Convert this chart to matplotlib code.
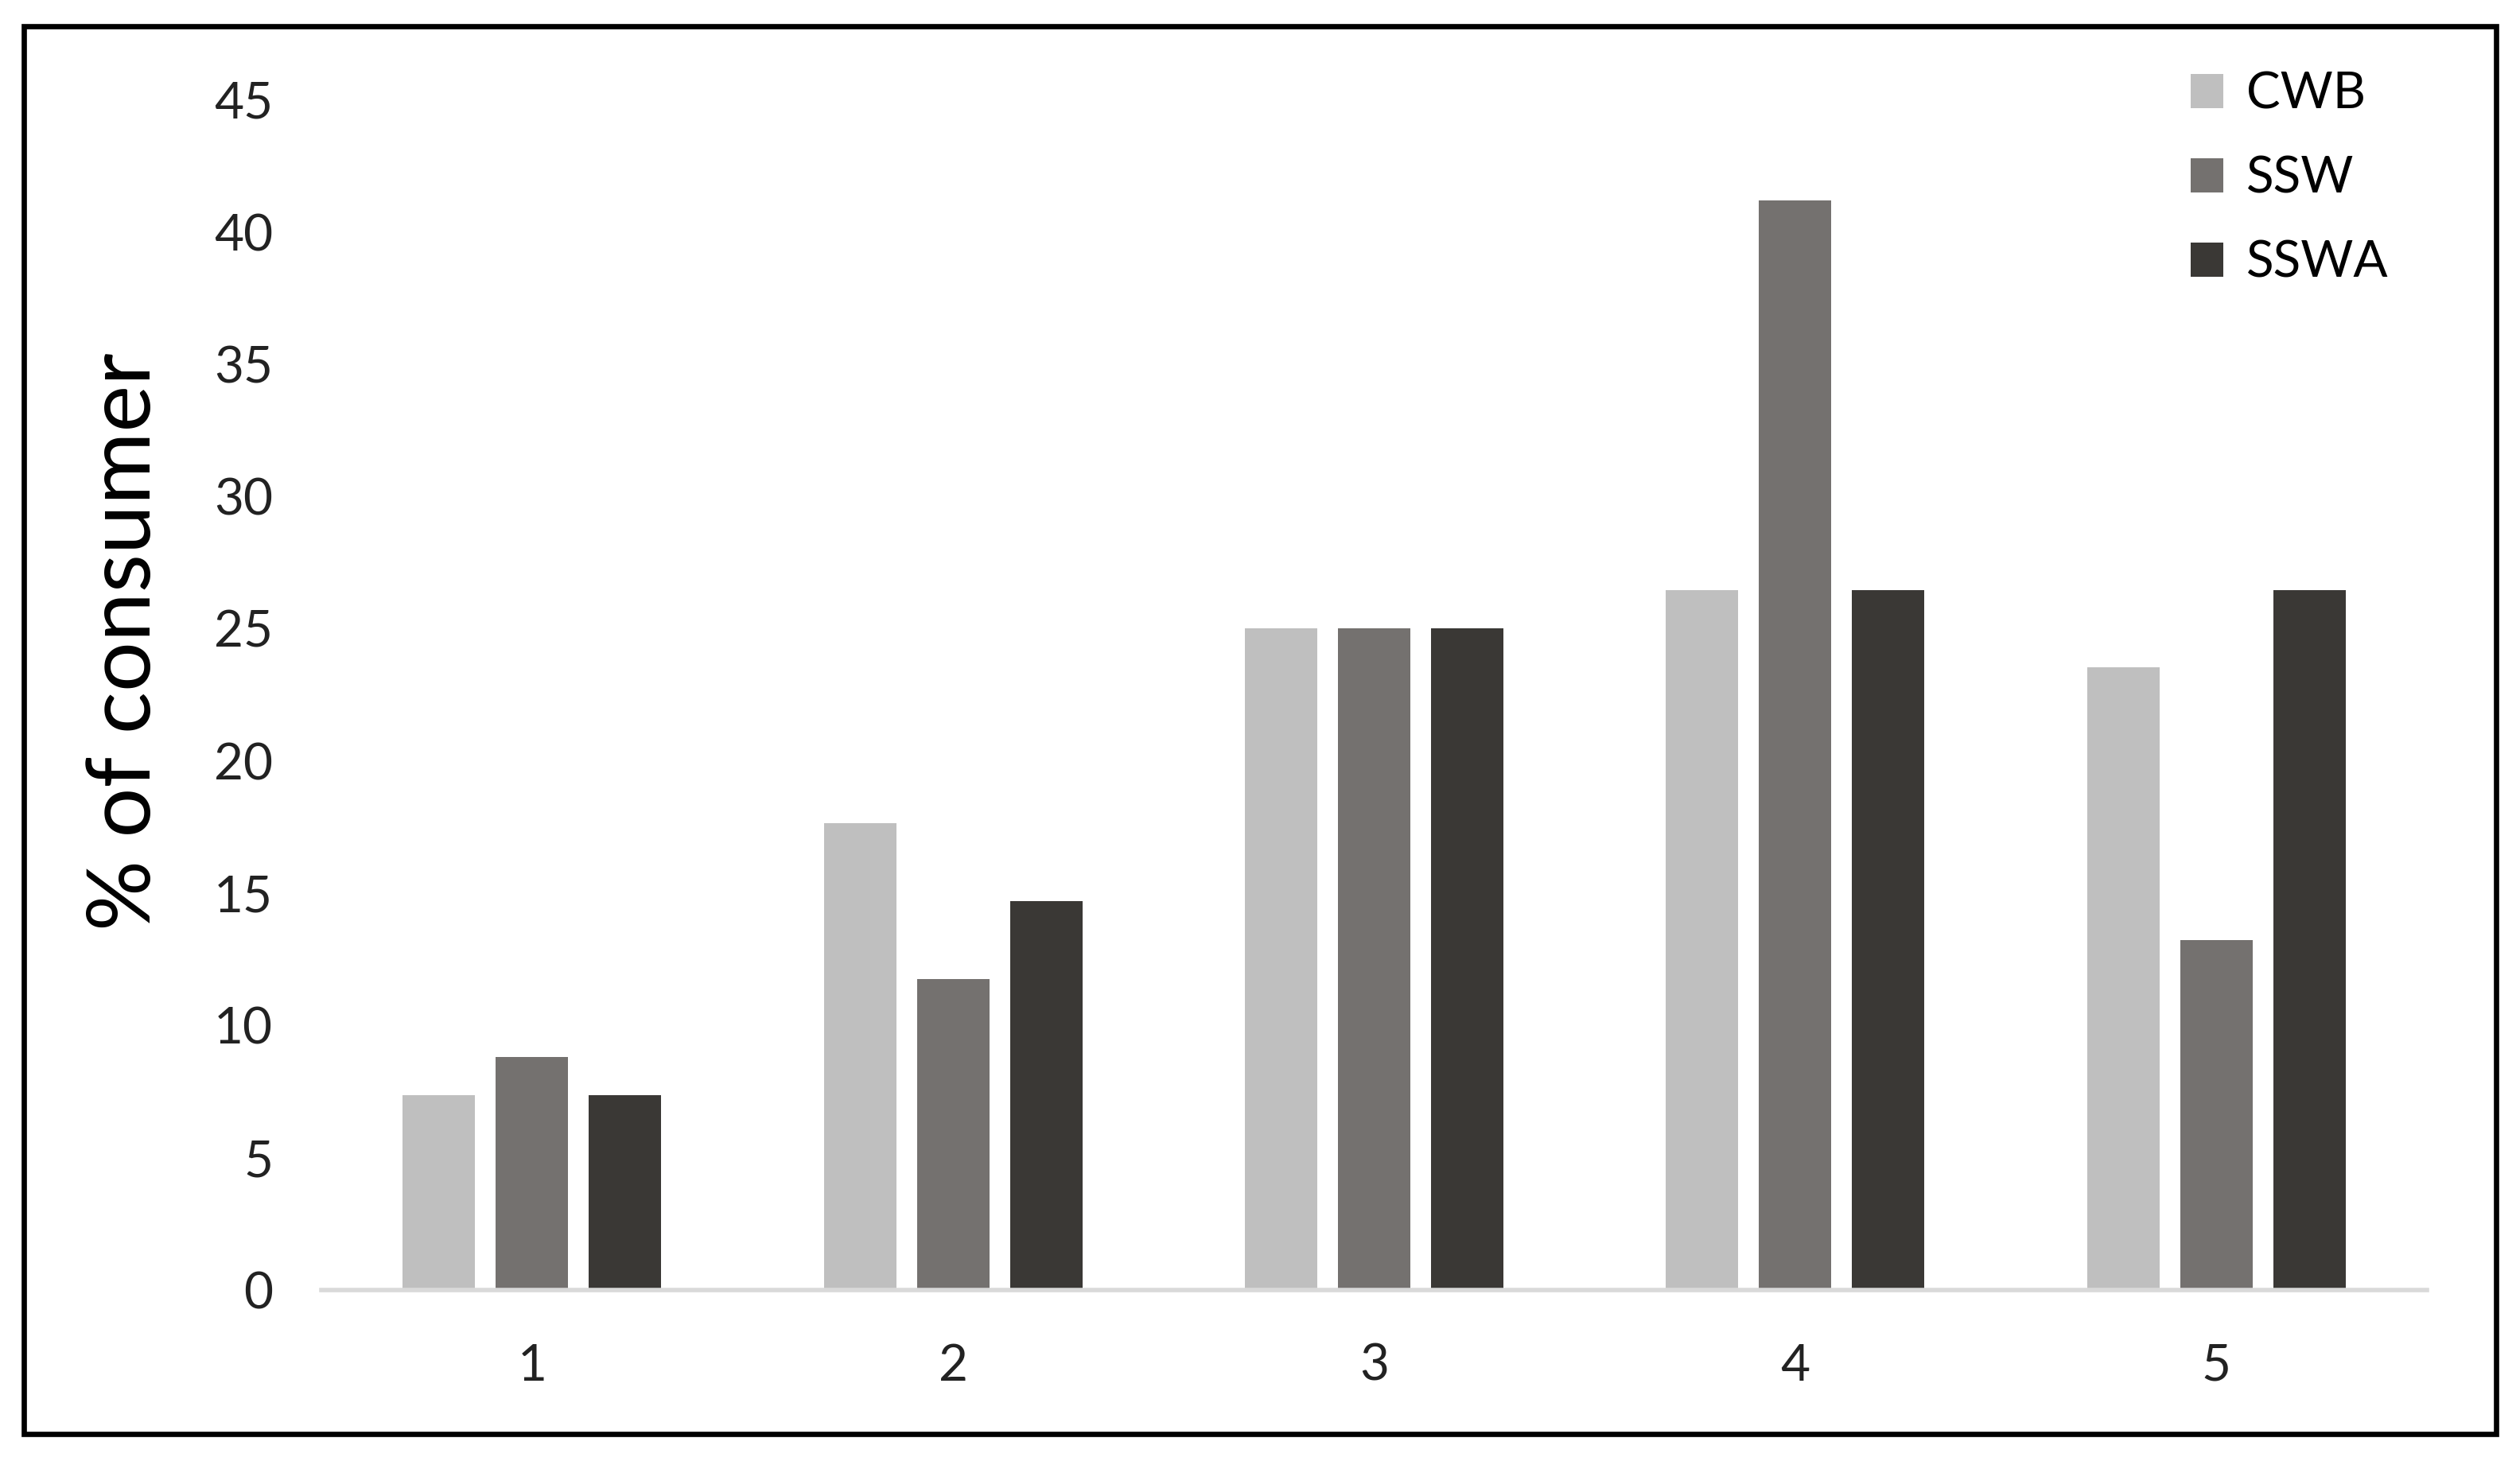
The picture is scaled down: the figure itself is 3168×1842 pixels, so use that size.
import numpy as np
import matplotlib
matplotlib.use("Agg")
import matplotlib.pyplot as plt
from matplotlib.patches import Rectangle

plt.rcParams["font.family"] = ["Lato", "DejaVu Sans"]

# data
groups = ["1", "2", "3", "4", "5"]
series = ["CWB", "SSW", "SSWA"]
cwb = [7.35, 17.65, 25.0, 26.47, 23.53]
ssw = [8.82, 11.76, 25.0, 41.18, 13.24]
sswa = [7.35, 14.71, 25.0, 26.47, 26.47]
y_ticks = [0, 5, 10, 15, 20, 25, 30, 35, 40, 45]

colors = ["#bfbfbf", "#74716f", "#3a3835"]

fig = plt.figure(figsize=(15.84, 9.21), dpi=200)
ax = fig.add_axes([0.1276, 0.1195, 0.8354, 0.8125])

x = np.arange(1, len(groups) + 1)
bar_w = 0.172
step = 0.221
for i, (vals, name) in enumerate(zip([cwb, ssw, sswa], series)):
    ax.bar(x + (i - 1) * step, vals, width=bar_w, color=colors[i], label=name)

ax.set_xlim(0.5, 5.5)
ax.set_ylim(0, 45)
ax.set_yticks(y_ticks)
ax.set_xticks(x)
ax.set_xticklabels(groups)

for side in ["top", "right", "left"]:
    ax.spines[side].set_visible(False)
ax.spines["bottom"].set_color("#d9d9d9")
ax.spines["bottom"].set_linewidth(2.0)

ax.tick_params(axis="both", length=0, labelsize=23, colors="#222222")
ax.tick_params(axis="y", pad=22)
ax.tick_params(axis="x", pad=24)

ax.set_ylabel("% of consumer", fontsize=40, color="black")
ax.yaxis.set_label_coords(-0.074, 0.545)

leg = ax.legend(loc="upper left", bbox_to_anchor=(0.866, 1.062), frameon=False,
                fontsize=23, handlelength=0.65, handleheight=0.65,
                handletextpad=0.45, labelspacing=0.75)

# outer frame round the whole picture
fig.patches.append(Rectangle((0.0096, 0.021), 0.9808, 0.961, transform=fig.transFigure,
                             fill=False, edgecolor="black", linewidth=2.4))

fig.savefig("out.png", dpi=200, facecolor="white")
